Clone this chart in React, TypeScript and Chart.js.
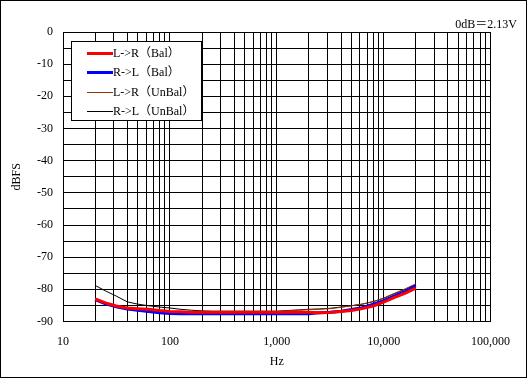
import { useEffect, useRef } from 'react';
import { Chart, registerables } from 'chart.js';

Chart.register(...registerables);

// Frequencies (Hz), 1/3-octave points
const freqs = [20, 25, 31.5, 40, 50, 63, 80, 100, 125, 160, 200, 250, 315, 400, 500, 630, 800, 1000, 1250, 1600, 2000, 2500, 3150, 4000, 5000, 6300, 8000, 10000, 12500, 16000, 20000];

// Series values (dBFS)
const lrBal = [-83.0, -84.2, -85.2, -85.8, -86.0, -86.2, -86.6, -86.9, -87.0, -87.1, -87.1, -87.1, -87.1, -87.1, -87.1, -87.1, -87.1, -87.1, -87.1, -87.1, -87.1, -87.3, -87.2, -86.9, -86.6, -86.0, -85.2, -84.0, -82.6, -81.2, -79.6];
const rlBal = [-83.2, -84.5, -85.4, -86.1, -86.5, -86.9, -87.3, -87.5, -87.6, -87.6, -87.6, -87.6, -87.6, -87.6, -87.6, -87.6, -87.6, -87.6, -87.6, -87.6, -87.6, -87.3, -87.1, -86.8, -86.3, -85.7, -84.6, -83.5, -82.1, -80.6, -78.9];
const lrUnBal = [-83.1, -84.3, -85.3, -86.0, -86.3, -86.6, -86.8, -86.9, -86.9, -86.9, -86.9, -86.9, -86.9, -86.9, -86.9, -86.9, -86.9, -86.9, -86.7, -86.5, -86.3, -86.2, -86.0, -85.6, -85.1, -84.6, -83.8, -82.7, -81.3, -79.8, -78.3];
const rlUnBal = [-78.8, -80.5, -82.1, -83.9, -84.6, -85.1, -85.5, -85.8, -86.2, -86.5, -86.7, -86.8, -86.8, -86.8, -86.8, -86.8, -86.8, -86.8, -86.6, -86.4, -86.2, -86.1, -85.9, -85.5, -85.1, -84.6, -83.8, -82.8, -81.4, -80.0, -78.5];

const seriesLabels = ['L->R（Bal）', 'R->L（Bal）', 'L->R（UnBal）', 'R->L（UnBal）'];
const seriesColors = ['#ff0000', '#0000ff', '#993300', '#000000'];
const seriesWidths = [3, 3, 1, 1];

// Axis ticks
const xTicks = [10, 20, 30, 40, 50, 60, 70, 80, 90, 100, 200, 300, 400, 500, 600, 700, 800, 900, 1000, 2000, 3000, 4000, 5000, 6000, 7000, 8000, 9000, 10000, 20000, 30000, 40000, 50000, 60000, 70000, 80000, 90000, 100000];
const yTicks = [-90, -85, -80, -75, -70, -65, -60, -55, -50, -45, -40, -35, -30, -25, -20, -15, -10, -5, 0];

const xTitle = 'Hz';
const yTitle = 'dBFS';
const refNote = '0dB＝2.13V';

const FONT = "'Liberation Serif', 'Times New Roman', 'Noto Sans CJK JP', serif";

export default function App() {
  const ref = useRef<HTMLCanvasElement>(null);

  useEffect(() => {
    document.body.style.margin = '0';
    const series = [lrBal, rlBal, lrUnBal, rlUnBal];

    const framePlugin = {
      id: 'frame',
      beforeDraw(chart: any) {
        const ctx = chart.ctx;
        ctx.save();
        ctx.fillStyle = '#ffffff';
        ctx.fillRect(0, 0, chart.width, chart.height);
        ctx.restore();
      },
      afterDraw(chart: any) {
        const ctx = chart.ctx;
        ctx.save();
        ctx.strokeStyle = '#000';
        ctx.lineWidth = 1;
        ctx.strokeRect(0.5, 0.5, chart.width - 1, chart.height - 1);
        ctx.fillStyle = '#000';
        ctx.font = `12px ${FONT}`;
        ctx.textAlign = 'right';
        ctx.textBaseline = 'middle';
        ctx.fillText(refNote, 517, 25);
        ctx.restore();
      },
    };

    const legendPlugin = {
      id: 'boxLegend',
      afterDatasetsDraw(chart: any) {
        const ctx = chart.ctx;
        ctx.save();
        const bx = 71.5, by = 41.5, bw = 130, bh = 79;
        ctx.fillStyle = '#fff';
        ctx.fillRect(bx, by, bw, bh);
        ctx.strokeStyle = '#000';
        ctx.lineWidth = 1;
        ctx.strokeRect(bx, by, bw, bh);
        ctx.font = `12px ${FONT}`;
        ctx.textBaseline = 'middle';
        ctx.textAlign = 'left';
        chart.data.datasets.forEach((ds: any, i: number) => {
          const y = 53 + i * 19.3;
          ctx.strokeStyle = ds.borderColor;
          ctx.lineWidth = ds.borderWidth;
          ctx.beginPath();
          const yy = ds.borderWidth % 2 === 1 ? Math.round(y) + 0.5 : Math.round(y);
          ctx.moveTo(87, yy);
          ctx.lineTo(113, yy);
          ctx.stroke();
          ctx.fillStyle = '#000';
          ctx.fillText(ds.label, 113, Math.round(y) + 0.5);
        });
        ctx.restore();
      },
    };

    const chart = new Chart(ref.current!, {
      type: 'line',
      data: {
        datasets: series.map((vals, i) => ({
          label: seriesLabels[i],
          data: freqs.map((f, j) => ({ x: f, y: vals[j] })),
          borderColor: seriesColors[i],
          backgroundColor: seriesColors[i],
          borderWidth: seriesWidths[i],
          pointRadius: 0,
          tension: 0,
          fill: false,
        })),
      },
      options: {
        responsive: false,
        animation: false,
        layout: { padding: { top: 32, right: 36.5, left: 0, bottom: 0 } },
        plugins: {
          legend: { display: false },
          tooltip: { enabled: false },
        },
        scales: {
          x: {
            type: 'logarithmic',
            min: 10,
            max: 100000,
            afterBuildTicks: (s: any) => {
              s.ticks = xTicks.map((v) => ({ value: v }));
            },
            afterFit: (s: any) => {
              s.height = 56.5;
            },
            grid: { color: '#000', lineWidth: 1, drawTicks: false },
            border: { color: '#000', width: 1 },
            ticks: {
              autoSkip: false,
              maxRotation: 0,
              minRotation: 0,
              padding: 13,
              color: '#000',
              font: { family: FONT, size: 12 },
              callback: (v: any) => {
                const l = Math.log10(Number(v));
                return Math.abs(l - Math.round(l)) < 1e-9 ? Number(v).toLocaleString('en-US') : '';
              },
            },
            title: {
              display: true,
              text: xTitle,
              color: '#000',
              font: { family: FONT, size: 12 },
              padding: { top: 0, bottom: 9 },
            },
          },
          y: {
            min: -90,
            max: 0,
            afterBuildTicks: (s: any) => {
              s.ticks = yTicks.map((v) => ({ value: v }));
            },
            afterFit: (s: any) => {
              s.width = 63;
            },
            grid: { color: '#000', lineWidth: 1, drawTicks: false },
            border: { color: '#000', width: 1 },
            ticks: {
              autoSkip: false,
              padding: 10,
              color: '#000',
              font: { family: FONT, size: 12 },
              callback: (v: any) => (Number(v) % 10 === 0 ? String(v) : ''),
            },
            title: {
              display: true,
              text: yTitle,
              color: '#000',
              font: { family: FONT, size: 12 },
              padding: { top: 10, bottom: 0 },
            },
          },
        },
      } as any,
      plugins: [framePlugin, legendPlugin],
    });
    return () => chart.destroy();
  }, []);

  return <canvas ref={ref} width={527} height={378} style={{ display: 'block' }} />;
}
